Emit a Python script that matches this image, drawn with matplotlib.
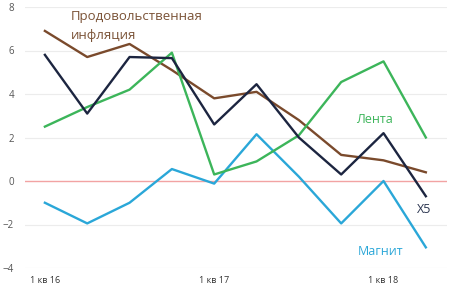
import matplotlib.pyplot as plt

# кварталы: 1 кв 16 ... 2 кв 18
quarters = ['1 кв 16', '2 кв 16', '3 кв 16', '4 кв 16',
            '1 кв 17', '2 кв 17', '3 кв 17', '4 кв 17',
            '1 кв 18', '2 кв 18']
food_infl = [6.9, 5.7, 6.3, 5.1, 3.8, 4.1, 2.8, 1.2, 0.95, 0.4]
x5 = [5.8, 3.1, 5.7, 5.65, 2.6, 4.45, 2.0, 0.3, 2.2, -0.7]
lenta = [2.5, 3.4, 4.2, 5.9, 0.3, 0.9, 2.1, 4.55, 5.5, 2.0]
magnit = [-1.0, -1.95, -1.0, 0.55, -0.12, 2.15, 0.2, -1.95, 0.0, -3.05]

plt.rcParams['font.family'] = ['Open Sans', 'DejaVu Sans']

fig = plt.figure(figsize=(4.5, 2.89), dpi=100)
ax = fig.add_axes([25 / 450, 21 / 289, 422 / 450, 261 / 289])

xs = list(range(len(quarters)))

for y in [-4, -2, 2, 4, 6, 8]:
    ax.axhline(y, color='#ececec', lw=0.8, zorder=0)
ax.axhline(0, color='#f2a3a3', lw=1.0, zorder=1)

ax.plot(xs, magnit, color='#2aa7d8', lw=1.7, zorder=3)
ax.plot(xs, lenta, color='#3cb55a', lw=1.7, zorder=3)
ax.plot(xs, x5, color='#1c2540', lw=1.7, zorder=4)
ax.plot(xs, food_infl, color='#7a4a2c', lw=1.7, zorder=2)

ax.set_xlim(-0.47, 9.5)
ax.set_ylim(-4, 8)
ax.set_yticks([-4, -2, 0, 2, 4, 6, 8])
ax.set_xticks([0, 4, 8])
ax.set_xticklabels([quarters[0], quarters[4], quarters[8]])
ax.tick_params(axis='y', length=0, pad=8, labelsize=7, labelcolor='#555555')
ax.tick_params(axis='x', length=0, pad=6, labelsize=6.5, labelcolor='#333333')
for s in ax.spines.values():
    s.set_visible(False)

ax.text(0.62, 7.85, 'Продовольственная\nинфляция', color='#7a5236',
        fontsize=9.5, va='top', ha='left', linespacing=1.55)
ax.text(7.35, 2.85, 'Лента', color='#3cb55a', fontsize=9, va='center')
ax.text(8.8, -1.3, 'X5', color='#2b3550', fontsize=9, va='center')
ax.text(7.4, -3.25, 'Магнит', color='#2aa7d8', fontsize=9, va='center')

fig.savefig('out.png', dpi=100)
